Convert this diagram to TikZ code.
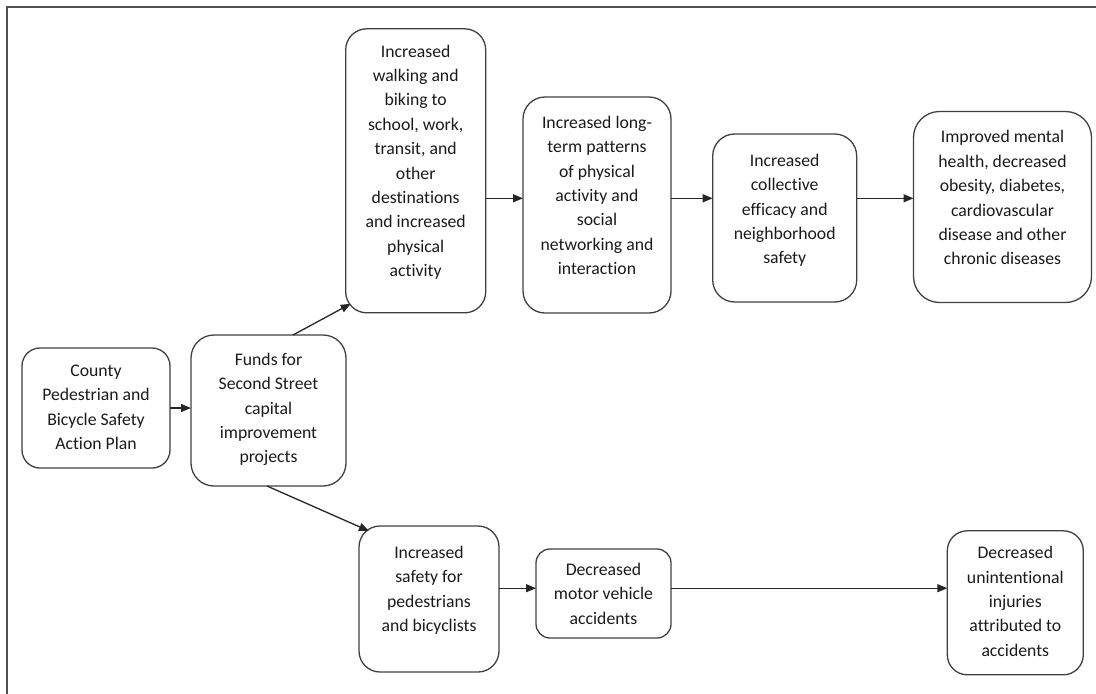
\documentclass[tikz,border=0pt]{standalone}
\usepackage{fontspec}
\setmainfont{Carlito}[Ligatures={NoCommon}]
\usetikzlibrary{arrows.meta,calc}
\definecolor{boxgray}{HTML}{404040}
\definecolor{framegray}{HTML}{505050}
\definecolor{textcol}{HTML}{1A1A1A}
\newcommand{\bxt}[4]{\parbox[c][#2pt][t]{#1pt}{\vspace*{#3pt}\centering\strut #4\par}}
\begin{document}
\begin{tikzpicture}[x=1pt,y=-1pt,
  box/.style={draw=boxgray, line width=1.3pt, inner sep=0pt, outer sep=0pt,
    font={\fontsize{17.7}{24.4}\selectfont}, text=textcol},
  arr/.style={line width=1.3pt, draw=black!85, -{Triangle[length=10pt,width=8pt]}}]
\useasboundingbox (0,0) rectangle (1096,694);
\draw[line width=2pt, draw=framegray] (7,694) -- (7,7) -- (1096,7);

\node[box, rounded corners=18pt] (county) at (96,408)
  {\bxt{148}{120}{11.3}{County\\Pedestrian and\\Bicycle Safety\\Action Plan}};
\node[box, rounded corners=23pt] (funds) at (268.5,410.5)
  {\bxt{155}{151}{13.3}{Funds for\\Second Street\\capital\\improvement\\projects}};
\node[box, rounded corners=21pt] (walk) at (415.7,170.8)
  {\bxt{140}{284}{11.3}{Increased\\walking and\\biking to\\school, work,\\transit, and\\other\\destinations\\and increased\\physical\\activity}};
\node[box, rounded corners=22pt] (lt) at (597,205)
  {\bxt{148}{216}{14.3}{Increased long-\\term patterns\\of physical\\activity and\\social\\networking and\\interaction}};
\node[box, rounded corners=22pt] (coll) at (784.7,218)
  {\bxt{144}{168}{15.3}{Increased\\collective\\efficacy and\\neighborhood\\safety}};
\node[box, rounded corners=26pt] (imp) at (1002.5,207)
  {\bxt{178}{191}{14.3}{Improved mental\\health, decreased\\obesity, diabetes,\\cardiovascular\\disease and other\\chronic diseases}};
\node[box, rounded corners=21pt] (safe) at (429,599)
  {\bxt{140}{146}{15.3}{Increased\\safety for\\pedestrians\\and bicyclists}};
\node[box, rounded corners=14pt] (motor) at (603.5,593.5)
  {\bxt{135}{89}{9.3}{Decreased\\motor vehicle\\accidents}};
\node[box, rounded corners=20pt] (unint) at (1015.3,602.8)
  {\bxt{136}{144}{10.9}{Decreased\\unintentional\\injuries\\attributed to\\accidents}};

\coordinate (ytop) at (0,198.3);
\coordinate (ybot) at (0,588.2);

\draw[arr] (county.east) -- (county.east -| funds.west);
\draw[arr] (funds.north -| 293,0) -- ($(walk.south west)+(5,-9)$);
\draw[arr] (funds.south -| 267,0) -- ($(safe.north west)+(10,5)$);
\draw[arr] (walk.east |- ytop) -- (lt.west |- ytop);
\draw[arr] (lt.east |- ytop) -- (coll.west |- ytop);
\draw[arr] (coll.east |- ytop) -- (imp.west |- ytop);
\draw[arr] (safe.east |- ybot) -- (motor.west |- ybot);
\draw[arr] (motor.east |- ybot) -- (unint.west |- ybot);
\end{tikzpicture}
\end{document}
